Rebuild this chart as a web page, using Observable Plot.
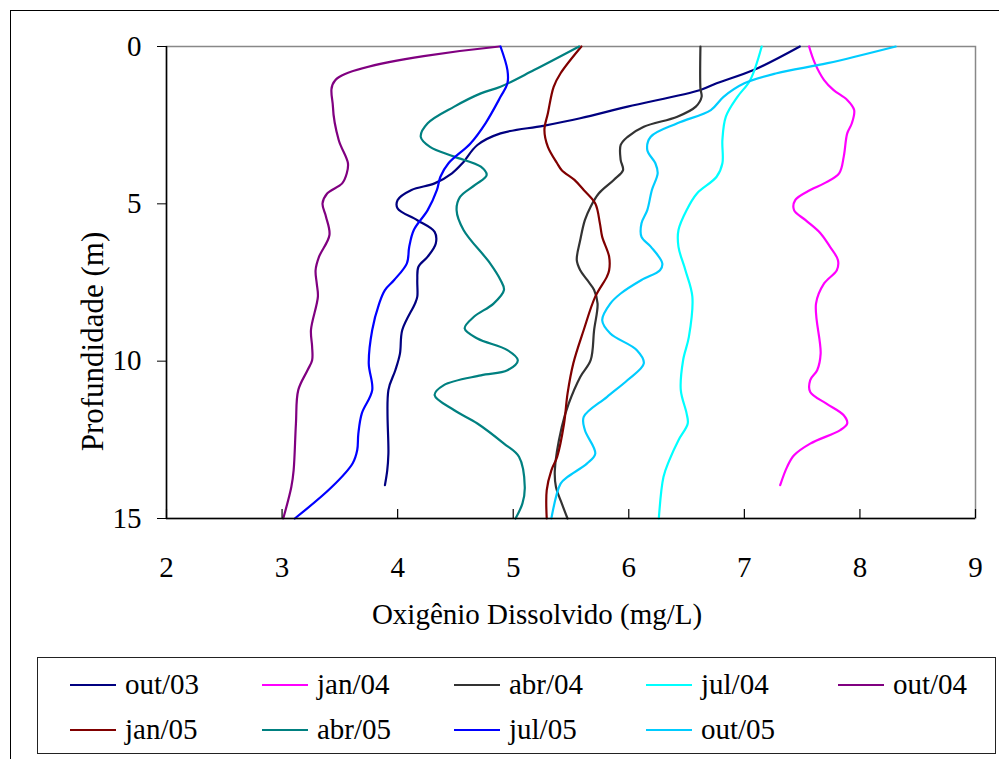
<!DOCTYPE html>
<html>
<head>
<meta charset="utf-8">
<script src="https://cdn.jsdelivr.net/npm/d3@7"></script>
<script src="https://cdn.jsdelivr.net/npm/@observablehq/plot@0.6"></script>
<style>
  html, body { margin: 0; padding: 0; background: #fff; }
  #wrap { position: relative; width: 999px; height: 759px; overflow: hidden; font-family: "Liberation Serif", "Times New Roman", serif; }
  #frame { position: absolute; left: 10px; top: 10px; width: 1200px; height: 1000px; border-left: 1px solid #000; border-top: 1px solid #000; }
  #chart { position: absolute; left: 0; top: 0; }
  #legend { position: absolute; left: 37px; top: 657px; width: 959px; height: 97px; border: 1px solid #222; box-sizing: border-box; background: #fff; }
  .item { position: absolute; height: 30px; }
  .swatch { position: absolute; left: 0; top: 15px; width: 46px; height: 0; border-top: 2.5px solid; }
  .lab { position: absolute; left: 55px; top: 0; font-size: 29px; line-height: 30px; color: #000; white-space: nowrap; }
</style>
</head>
<body>
<div id="wrap">
  <div id="frame"></div>
  <div id="chart"></div>
  <div id="legend"></div>
</div>
<script>
// ---- data ----
const seriesNames  = ["out/03", "jan/04", "abr/04", "jul/04", "out/04", "jan/05", "abr/05", "jul/05", "out/05"];
const seriesColors = ["#000080", "#FF00FF", "#333333", "#00FFFF", "#800080", "#800000", "#008080", "#0000FF", "#00CCFF"];
const xTicks = [2, 3, 4, 5, 6, 7, 8, 9];
const yTicks = [0, 5, 10, 15];

const out03_depth = [0, 0.75, 1.17, 1.38, 1.91, 2.28, 2.52, 2.76, 3.13, 3.71, 4.03, 4.35, 4.56, 4.88, 5.15, 5.52, 5.89, 6.26, 6.68, 7.0, 7.42, 7.95, 8.17, 9.01, 9.76, 10.29, 10.92, 12.94, 13.47, 13.94];
const out03_od    = [7.48, 7.08, 6.76, 6.62, 5.99, 5.58, 5.26, 4.89, 4.69, 4.56, 4.47, 4.32, 4.12, 4.0, 4.0, 4.17, 4.32, 4.33, 4.26, 4.18, 4.17, 4.17, 4.15, 4.04, 4.02, 3.98, 3.92, 3.92, 3.91, 3.89];

const jan04_depth = [0, 0.53, 1.07, 1.38, 1.7, 2.02, 2.44, 2.76, 3.5, 4.03, 4.35, 4.56, 4.88, 5.2, 5.52, 5.94, 6.36, 6.79, 7.11, 7.53, 8.17, 9.76, 10.29, 10.6, 10.98, 11.35, 11.72, 11.98, 12.19, 12.62, 12.99, 13.36, 13.94];
const jan04_od    = [7.56, 7.61, 7.69, 7.77, 7.89, 7.95, 7.93, 7.89, 7.86, 7.82, 7.69, 7.57, 7.44, 7.43, 7.53, 7.66, 7.74, 7.81, 7.80, 7.69, 7.62, 7.66, 7.63, 7.57, 7.57, 7.71, 7.86, 7.89, 7.83, 7.57, 7.43, 7.37, 7.31];

const abr04_depth = [0, 1.33, 1.6, 1.91, 2.23, 2.55, 2.87, 3.13, 3.61, 3.93, 4.24, 4.67, 5.09, 5.52, 6.15, 6.79, 7.11, 7.42, 7.74, 8.17, 9.01, 9.97, 10.5, 11.35, 12.09, 13.47, 14.0, 14.52, 15];
const abr04_od    = [6.62, 6.62, 6.63, 6.58, 6.42, 6.13, 5.99, 5.93, 5.93, 5.95, 5.87, 5.74, 5.67, 5.62, 5.58, 5.55, 5.58, 5.64, 5.70, 5.73, 5.70, 5.67, 5.58, 5.48, 5.42, 5.36, 5.37, 5.42, 5.47];

const jul04_depth = [0, 1.07, 1.6, 2.23, 2.97, 3.71, 4.14, 4.67, 5.2, 5.83, 6.37, 7.11, 7.95, 9.23, 9.97, 10.92, 11.66, 11.98, 12.51, 13.15, 13.68, 15];
const jul04_od    = [7.15, 7.05, 6.94, 6.84, 6.81, 6.81, 6.76, 6.59, 6.50, 6.43, 6.43, 6.49, 6.55, 6.52, 6.47, 6.45, 6.50, 6.51, 6.43, 6.35, 6.30, 6.26];

const out04_depth = [0, 1.07, 1.91, 2.97, 3.71, 4.03, 4.35, 4.67, 4.99, 5.41, 5.99, 6.68, 7.11, 7.53, 7.95, 9.01, 9.54, 9.97, 10.29, 10.92, 11.98, 13.47, 14.0, 15];
const out04_od    = [4.88, 3.46, 3.44, 3.49, 3.57, 3.56, 3.52, 3.39, 3.35, 3.38, 3.41, 3.32, 3.29, 3.30, 3.31, 3.25, 3.26, 3.26, 3.22, 3.14, 3.12, 3.10, 3.08, 3.01];

const jan05_depth = [0, 0.85, 1.28, 2.12, 2.65, 3.19, 3.71, 3.93, 4.24, 4.56, 4.99, 5.62, 6.05, 6.68, 7.11, 7.32, 7.95, 9.01, 10.07, 11.03, 11.98, 13.04, 13.47, 14.1, 15];
const jan05_od    = [5.59, 5.41, 5.35, 5.30, 5.27, 5.30, 5.38, 5.42, 5.53, 5.61, 5.71, 5.75, 5.77, 5.83, 5.83, 5.81, 5.71, 5.61, 5.52, 5.47, 5.44, 5.38, 5.33, 5.29, 5.29];

const abr05_depth = [0, 0.75, 1.28, 1.49, 1.91, 2.44, 2.87, 3.19, 3.5, 3.82, 4.09, 4.4, 4.78, 5.2, 5.83, 6.89, 7.42, 7.74, 8.17, 8.59, 8.96, 9.28, 9.65, 9.97, 10.29, 10.45, 10.76, 11.08, 11.56, 11.98, 12.62, 13.04, 14.0, 14.52, 15];
const abr05_od    = [5.57, 5.18, 4.89, 4.72, 4.49, 4.26, 4.20, 4.28, 4.49, 4.72, 4.77, 4.67, 4.54, 4.51, 4.57, 4.80, 4.89, 4.92, 4.83, 4.66, 4.58, 4.69, 4.95, 5.04, 4.95, 4.72, 4.40, 4.32, 4.49, 4.69, 4.92, 5.05, 5.10, 5.08, 5.02];

const jul05_depth = [0, 0.75, 1.17, 1.6, 2.44, 3.08, 3.71, 4.14, 4.56, 5.2, 5.83, 6.37, 6.89, 7.42, 7.74, 8.17, 9.01, 10.07, 10.92, 11.66, 12.3, 12.83, 13.25, 14.0, 15];
const jul05_od    = [4.89, 4.95, 4.95, 4.89, 4.76, 4.63, 4.44, 4.37, 4.34, 4.26, 4.14, 4.10, 4.08, 3.97, 3.89, 3.84, 3.78, 3.75, 3.78, 3.69, 3.66, 3.65, 3.61, 3.43, 3.11];

const out05_depth = [0, 0.53, 0.85, 1.17, 1.6, 2.02, 2.44, 2.87, 3.29, 3.71, 4.03, 4.56, 5.2, 5.62, 6.05, 6.36, 6.89, 7.11, 7.42, 7.85, 8.17, 8.7, 9.12, 9.65, 10.07, 10.6, 11.14, 11.77, 12.19, 12.94, 13.25, 13.68, 13.89, 15];
const out05_od    = [8.31, 7.72, 7.28, 7.0, 6.82, 6.71, 6.42, 6.19, 6.16, 6.23, 6.25, 6.20, 6.16, 6.11, 6.11, 6.19, 6.29, 6.27, 6.11, 5.93, 5.84, 5.77, 5.84, 6.07, 6.13, 5.99, 5.81, 5.61, 5.62, 5.71, 5.64, 5.47, 5.41, 5.33];

const seriesData = [
  [out03_depth, out03_od], [jan04_depth, jan04_od], [abr04_depth, abr04_od],
  [jul04_depth, jul04_od], [out04_depth, out04_od], [jan05_depth, jan05_od],
  [abr05_depth, abr05_od], [jul05_depth, jul05_od], [out05_depth, out05_od]
];

const rows = [];
seriesData.forEach(([depths, vals], k) => {
  depths.forEach((d, i) => rows.push({series: seriesNames[k], depth: d, od: vals[i]}));
});

const font = "'Liberation Serif', 'Times New Roman', serif";

const chart = Plot.plot({
  width: 999,
  height: 650,
  marginLeft: 166,
  marginRight: 24,
  marginTop: 46,
  marginBottom: 132,
  style: {fontFamily: font, fontSize: "29px", color: "#000", background: "transparent", overflow: "visible"},
  x: {domain: [2, 9]},
  y: {domain: [0, 15], reverse: true},
  color: {domain: seriesNames, range: seriesColors},
  marks: [
    Plot.frame({stroke: "#888888", strokeWidth: 1.5}),
    Plot.line(rows, {x: "od", y: "depth", z: "series", stroke: "series", curve: "catmull-rom", strokeWidth: 2.2}),
    Plot.ruleX([2], {stroke: "#000", strokeWidth: 1.5}),
    Plot.ruleY([15], {stroke: "#000", strokeWidth: 1.5}),
    Plot.ruleX(xTicks, {x: d => d, y1: () => 15, y2: () => 15, insetTop: -9, stroke: "#000", strokeWidth: 1.2}),
    Plot.axisY(yTicks, {tickSize: 9, tickPadding: 16, label: null, fontSize: 29, stroke: "#000", tickFormat: d3.format("d")}),
    Plot.axisX(xTicks, {tickSize: 0, tickPadding: 38, label: null, fontSize: 29, tickFormat: d3.format("d")}),
    Plot.text(["Oxigênio Dissolvido (mg/L)"], {frameAnchor: "bottom", textAnchor: "middle", lineAnchor: "middle", dx: -34, dy: 96, fontSize: 29, fill: "#000"}),
    Plot.text(["Profundidade (m)"], {frameAnchor: "left", textAnchor: "middle", lineAnchor: "middle", rotate: -90, dx: -73, dy: 59, fontSize: 31, fill: "#000"})
  ]
});
document.getElementById("chart").appendChild(chart);

// ---- legend ----
const legend = document.getElementById("legend");
const colX = [32, 224, 416, 608, 800];
const rowY = [11, 56];
seriesNames.forEach((name, i) => {
  const item = document.createElement("div");
  item.className = "item";
  item.style.left = colX[i % 5] + "px";
  item.style.top = rowY[Math.floor(i / 5)] + "px";
  const sw = document.createElement("div");
  sw.className = "swatch";
  sw.style.borderTopColor = seriesColors[i];
  const lab = document.createElement("div");
  lab.className = "lab";
  lab.textContent = name;
  item.appendChild(sw);
  item.appendChild(lab);
  legend.appendChild(item);
});
</script>
</body>
</html>
